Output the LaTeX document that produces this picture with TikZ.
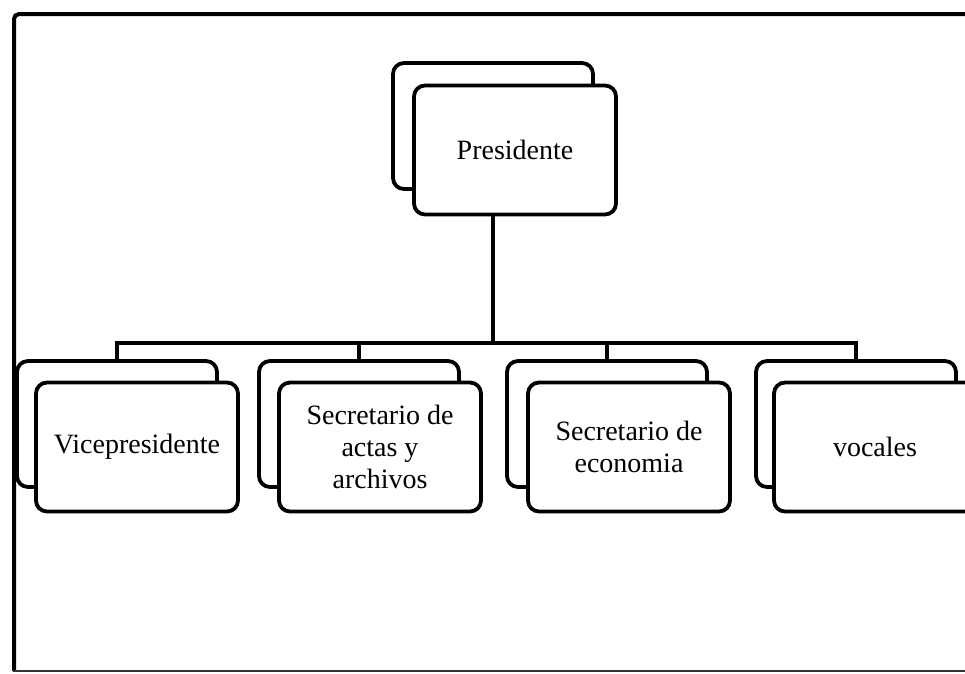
\documentclass[tikz,border=0pt]{standalone}
\usepackage{fontspec}
\setmainfont{Liberation Serif}
\begin{document}
\begin{tikzpicture}[x=1pt,y=-1pt,
  backbox/.style={draw=black,line width=3.8pt,rounded corners=11pt,fill=white,
    minimum width=200pt,minimum height=126pt,inner sep=0pt},
  frontbox/.style={draw=black,line width=3.8pt,rounded corners=11pt,fill=white,
    minimum width=202pt,minimum height=129pt,inner sep=0pt,align=center,
    font=\fontsize{28}{32}\selectfont},
  conn/.style={draw=black,line width=3.8pt},
  frameline/.style={draw=black,line width=4pt}]
\useasboundingbox (0,0) rectangle (965,673);
\clip (0,0) rectangle (965,673);
% frame
\draw[frameline,rounded corners=5pt] (965,14) -- (14,14) -- (14,671);
\draw[draw=black!80,line width=1.3pt] (13,671) -- (965,671);
% presidente
\node[backbox] (pb) at (493,126) {};
\node[frontbox] (pf) at (515,150) {Presidente};
% second level
\node[backbox] (b1) at (117,424) {};
\node[frontbox] (f1) at (137,447) {Vicepresidente};
\node[backbox] (b2) at (359,424) {};
\node[frontbox] (f2) at (380,447) {Secretario de\\actas y\\archivos};
\node[backbox] (b3) at (607,424) {};
\node[frontbox] (f3) at (629,447) {Secretario de\\economia};
\node[backbox] (b4) at (856,424) {};
\node[frontbox] (f4) at (875,447) {vocales};
% connectors
\coordinate (bus) at (0,343);
\draw[conn] (pb.center |- pf.south) -- (pb.center |- bus);
\draw[conn,line cap=rect] (b1.center |- bus) -- (b4.center |- bus);
\draw[conn] (b1.center |- bus) -- (b1.north);
\draw[conn] (b2.center |- bus) -- (b2.north);
\draw[conn] (b3.center |- bus) -- (b3.north);
\draw[conn] (b4.center |- bus) -- (b4.north);
\end{tikzpicture}
\end{document}
